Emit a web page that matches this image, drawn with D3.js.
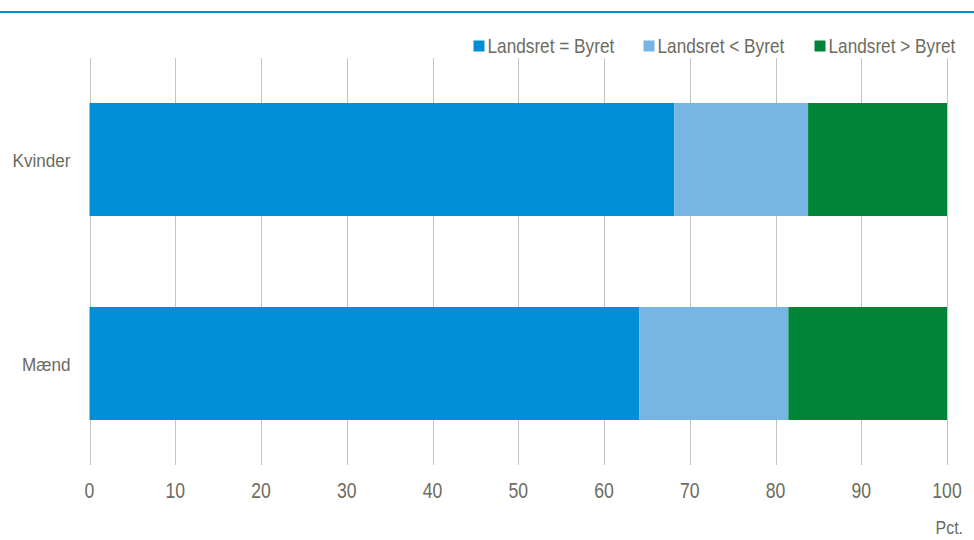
<!DOCTYPE html>
<html>
<head>
<meta charset="utf-8">
<script src="https://cdn.jsdelivr.net/npm/d3@7"></script>
<style>
  body { margin: 0; background: #fff; }
  svg text { font-family: "Liberation Sans Narrow", "Liberation Sans", Arial, sans-serif; fill: #6c6c5e; }
</style>
</head>
<body>
<div id="chart"></div>
<script>
// data
var categories = ["Kvinder", "Mænd"];
var seriesNames = ["Landsret = Byret", "Landsret < Byret", "Landsret > Byret"];
var seriesColors = ["#008fd5", "#77b5e4", "#008437"];
var equalVals = [68.2, 64.1];
var lowerVals = [15.6, 17.4];
var higherVals = [16.2, 18.5];
var xTicks = [0, 10, 20, 30, 40, 50, 60, 70, 80, 90, 100];

var width = 974, height = 540;

var svg = d3.select("#chart").append("svg")
  .attr("width", width)
  .attr("height", height);

// narrow-looking text: squeeze a normal font horizontally
function narrow(sel, sx) {
  return sel.attr("transform", function(d, i) {
    var p = this.__pos;
    return "translate(" + p[0] + "," + p[1] + ") scale(" + sx + ",1)";
  });
}

// top rule
svg.append("rect")
  .attr("x", 0).attr("y", 11)
  .attr("width", width).attr("height", 2)
  .attr("fill", "#008fd5");

var x = d3.scaleLinear().domain([0, 100]).range([89.5, 947]);
var y = d3.scaleBand().domain(categories).range([57.5, 465.5])
  .paddingInner(0.446).paddingOuter(0.223);

// grid lines
svg.append("g").selectAll("line")
  .data(xTicks)
  .enter().append("line")
  .attr("x1", d => Math.round(x(d)) + 0.5)
  .attr("x2", d => Math.round(x(d)) + 0.5)
  .attr("y1", 58).attr("y2", 465)
  .attr("stroke", "#c4c4bc")
  .attr("stroke-width", 1);

// stack
var rows = categories.map(function(c, i) {
  return { cat: c, s0: equalVals[i], s1: lowerVals[i], s2: higherVals[i] };
});
var stack = d3.stack().keys(["s0", "s1", "s2"])(rows);

svg.append("g").selectAll("g")
  .data(stack)
  .enter().append("g")
  .attr("fill", (d, i) => seriesColors[i])
  .selectAll("rect")
  .data(d => d)
  .enter().append("rect")
  .attr("x", d => x(d[0]))
  .attr("width", d => x(d[1]) - x(d[0]))
  .attr("y", d => y(d.data.cat))
  .attr("height", y.bandwidth());

// x axis labels
var xl = svg.append("g").selectAll("text")
  .data(xTicks)
  .enter().append("text")
  .attr("text-anchor", "middle")
  .attr("font-size", 22)
  .text(d => d)
  .each(function(d) { this.__pos = [x(d), 498]; });
narrow(xl, 0.8);

var pct = svg.append("text")
  .attr("text-anchor", "end")
  .attr("font-size", 19)
  .text("Pct.")
  .each(function() { this.__pos = [963, 534]; });
narrow(pct, 0.84);

// y labels
var yl = svg.append("g").selectAll("text")
  .data(categories)
  .enter().append("text")
  .attr("text-anchor", "end")
  .attr("font-size", 19)
  .text(d => d)
  .each(function(d) { this.__pos = [70.5, y(d) + y.bandwidth() / 2 + 7]; });
narrow(yl, 0.9);

// legend
var legendX = [473.5, 643.5, 814.5];
var legend = svg.append("g").selectAll("g")
  .data(seriesNames)
  .enter().append("g")
  .attr("transform", (d, i) => "translate(" + legendX[i] + ",40.5)");
legend.append("rect")
  .attr("width", 11).attr("height", 11)
  .attr("fill", (d, i) => seriesColors[i]);
var lt = legend.append("text")
  .attr("font-size", 21)
  .text(d => d)
  .each(function() { this.__pos = [14, 12]; });
narrow(lt, 0.82);
</script>
</body>
</html>
